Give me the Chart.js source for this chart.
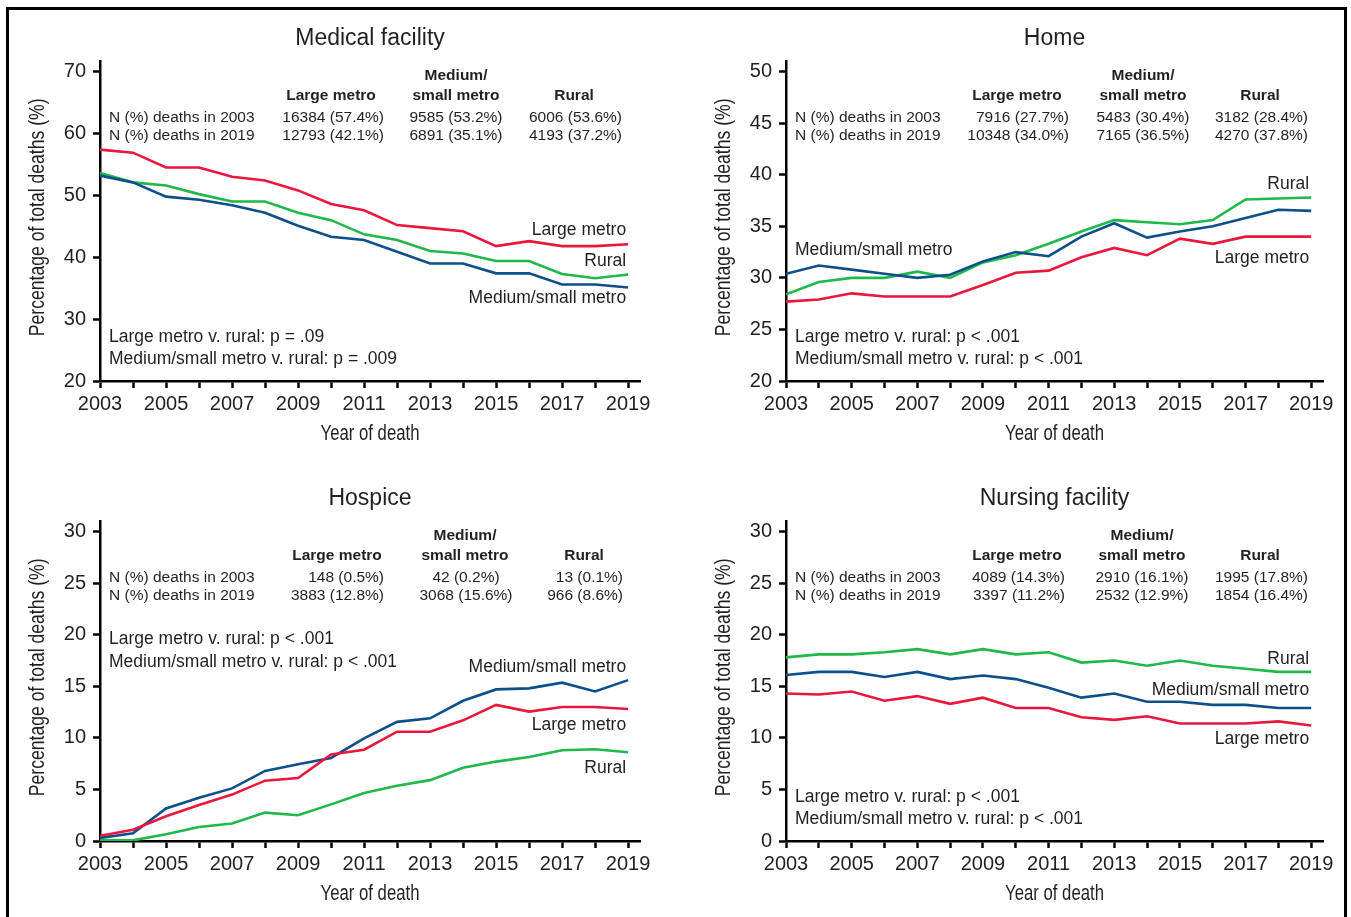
<!DOCTYPE html>
<html>
<head>
<meta charset="utf-8">
<title>Place of death by urbanization</title>
<script src="https://cdn.jsdelivr.net/npm/chart.js@4.4.0/dist/chart.umd.min.js"></script>
<style>
  html, body { margin: 0; padding: 0; background: #fff; width: 1351px; height: 917px; overflow: hidden; }
  .frame { position: absolute; left: 6px; top: 7px; width: 1335px; height: 960px; border: 3px solid #000; }
  .panel { position: absolute; }
</style>
</head>
<body>
<div class="frame"></div>
<div class="panel" style="left:20px;top:15px"><canvas id="c1" width="640" height="441"></canvas></div>
<div class="panel" style="left:706px;top:15px"><canvas id="c2" width="640" height="441"></canvas></div>
<div class="panel" style="left:20px;top:475px"><canvas id="c3" width="640" height="441"></canvas></div>
<div class="panel" style="left:706px;top:475px"><canvas id="c4" width="640" height="441"></canvas></div>
<script>
// ---- data ----
const years = [2003, 2004, 2005, 2006, 2007, 2008, 2009, 2010, 2011, 2012, 2013, 2014, 2015, 2016, 2017, 2018, 2019];
const yearLabels = ['2003', '2005', '2007', '2009', '2011', '2013', '2015', '2017', '2019'];
const seriesNames = ['Large metro', 'Medium/small metro', 'Rural'];

// Medical facility
const medLarge = [57.4, 56.9, 54.5, 54.5, 53.0, 52.4, 50.8, 48.6, 47.6, 45.2, 44.7, 44.2, 41.8, 42.6, 41.8, 41.8, 42.1];
const medMedSmall = [53.2, 52.1, 49.8, 49.3, 48.4, 47.2, 45.1, 43.3, 42.8, 40.9, 39.0, 39.0, 37.4, 37.4, 35.6, 35.6, 35.1];
const medRural = [53.6, 52.1, 51.6, 50.2, 49.0, 49.0, 47.2, 46.0, 43.7, 42.8, 41.0, 40.6, 39.4, 39.4, 37.3, 36.6, 37.2];
const medTicks = [20, 30, 40, 50, 60, 70];
const medN2003 = ['16384 (57.4%)', '9585 (53.2%)', '6006 (53.6%)'];
const medN2019 = ['12793 (42.1%)', '6891 (35.1%)', '4193 (37.2%)'];
const medP = ['Large metro v. rural: p = .09', 'Medium/small metro v. rural: p = .009'];

// Home
const homeLarge = [27.7, 27.9, 28.5, 28.2, 28.2, 28.2, 29.3, 30.5, 30.7, 32.0, 32.9, 32.2, 33.8, 33.3, 34.0, 34.0, 34.0];
const homeMedSmall = [30.4, 31.2, 30.8, 30.4, 30.0, 30.3, 31.6, 32.5, 32.1, 34.0, 35.3, 33.9, 34.5, 35.0, 35.8, 36.6, 36.5];
const homeRural = [28.4, 29.6, 30.0, 30.0, 30.6, 30.0, 31.5, 32.2, 33.3, 34.5, 35.6, 35.4, 35.2, 35.6, 37.6, 37.7, 37.8];
const homeTicks = [20, 25, 30, 35, 40, 45, 50];
const homeN2003 = ['7916 (27.7%)', '5483 (30.4%)', '3182 (28.4%)'];
const homeN2019 = ['10348 (34.0%)', '7165 (36.5%)', '4270 (37.8%)'];
const homeP = ['Large metro v. rural: p < .001', 'Medium/small metro v. rural: p < .001'];

// Hospice
const hospLarge = [0.5, 1.1, 2.4, 3.5, 4.5, 5.85, 6.1, 8.4, 8.85, 10.6, 10.6, 11.7, 13.2, 12.55, 13.0, 13.0, 12.8];
const hospMedSmall = [0.3, 0.75, 3.15, 4.2, 5.1, 6.8, 7.45, 8.05, 9.95, 11.55, 11.9, 13.6, 14.7, 14.8, 15.35, 14.5, 15.6];
const hospRural = [0.1, 0.06, 0.65, 1.36, 1.7, 2.75, 2.5, 3.55, 4.65, 5.35, 5.9, 7.1, 7.7, 8.15, 8.8, 8.9, 8.6];
const hospTicks = [0, 5, 10, 15, 20, 25, 30];
const hospN2003 = ['148 (0.5%)', '42 (0.2%)', '13 (0.1%)'];
const hospN2019 = ['3883 (12.8%)', '3068 (15.6%)', '966 (8.6%)'];
const hospP = ['Large metro v. rural: p < .001', 'Medium/small metro v. rural: p < .001'];

// Nursing facility
const nursLarge = [14.3, 14.2, 14.5, 13.6, 14.05, 13.3, 13.9, 12.9, 12.9, 12.0, 11.75, 12.1, 11.4, 11.4, 11.4, 11.6, 11.2];
const nursMedSmall = [16.1, 16.4, 16.4, 15.9, 16.4, 15.7, 16.05, 15.7, 14.85, 13.9, 14.3, 13.5, 13.5, 13.2, 13.2, 12.9, 12.9];
const nursRural = [17.8, 18.1, 18.1, 18.3, 18.6, 18.1, 18.6, 18.1, 18.3, 17.3, 17.5, 17.0, 17.5, 17.0, 16.7, 16.4, 16.4];
const nursTicks = [0, 5, 10, 15, 20, 25, 30];
const nursN2003 = ['4089 (14.3%)', '2910 (16.1%)', '1995 (17.8%)'];
const nursN2019 = ['3397 (11.2%)', '2532 (12.9%)', '1854 (16.4%)'];
const nursP = ['Large metro v. rural: p < .001', 'Medium/small metro v. rural: p < .001'];

const tableHead = ['Large metro', 'Medium/', 'small metro', 'Rural'];
const rowLabels = ['N (%) deaths in 2003', 'N (%) deaths in 2019'];
const xTitle = 'Year of death';
const yTitle = 'Percentage of total deaths (%)';

// ---- styling ----
const INK = '#231f20';
const RED = '#e8173c', BLUE = '#0d4f8b', GREEN = '#1fb84a';
const SANS = '"Liberation Sans", Arial, Helvetica, sans-serif';
const SQUEEZE = 0.76; // the axis titles are set in a condensed face

// text inside the plot: little table, p-values, line labels, axis titles
const notes = {
  id: 'notes',
  afterDatasetsDraw(chart, args, o) {
    const {ctx, chartArea: a, scales: {x, y}} = chart;
    const top = y.getPixelForValue(o.yTop);
    const L = a.left;
    const c = o.cols;
    ctx.save();
    ctx.fillStyle = INK;
    ctx.textBaseline = 'middle';

    ctx.font = 'bold 15.5px ' + SANS;
    ctx.textAlign = 'center';
    ctx.fillText(tableHead[0], L + c[0][0], top + 24);
    ctx.fillText(tableHead[1], L + c[1][0], top + 4);
    ctx.fillText(tableHead[2], L + c[1][0], top + 24);
    ctx.fillText(tableHead[3], L + c[2][0], top + 24);

    ctx.font = '15.5px ' + SANS;
    [o.n2003, o.n2019].forEach((row, r) => {
      const ty = top + 46 + r * 18.5;
      ctx.textAlign = 'left';
      ctx.fillText(rowLabels[r], L + 9, ty);
      ctx.textAlign = 'right';
      ctx.fillText(row[0], L + c[0][1], ty);
      ctx.textAlign = 'center';
      ctx.fillText(row[1], L + c[1][1], ty);
      ctx.textAlign = 'right';
      ctx.fillText(row[2], L + c[2][1], ty);
    });

    ctx.font = '17.5px ' + SANS;
    ctx.textAlign = 'left';
    o.pText.forEach((t, i) => {
      const ty = o.pTop ? top + o.pTop + i * 23 : a.bottom - 44 + i * 22;
      ctx.fillText(t, L + 9, ty);
    });

    o.labels.forEach(([t, yv, side]) => {
      const left = side === 'left';
      ctx.textAlign = left ? 'left' : 'right';
      const tx = left ? L + 9 : x.getPixelForValue(years[years.length - 1]) - 2;
      ctx.fillText(t, tx, y.getPixelForValue(yv));
    });

    // condensed axis titles
    ctx.font = '22px ' + SANS;
    ctx.textAlign = 'center';
    ctx.save();
    ctx.translate((a.left + a.right) / 2, a.bottom + 53);
    ctx.scale(SQUEEZE, 1);
    ctx.fillText(xTitle, 0, 0);
    ctx.restore();

    ctx.save();
    ctx.translate(L - 62, (a.top + a.bottom) / 2 - 4);
    ctx.rotate(-Math.PI / 2);
    ctx.scale(0.8, 1);
    ctx.fillText(yTitle, 0, 0);
    ctx.restore();

    ctx.restore();
  }
};

function makePanel(id, p) {
  const first = p.ticks[0], last = p.ticks[p.ticks.length - 1];
  const yMax = last + (last - first) * 10 / 309;
  const xMax = years[years.length - 1] + 0.36;
  const series = [p.large, p.medSmall, p.rural];
  const colors = [RED, BLUE, GREEN];
  new Chart(document.getElementById(id), {
    type: 'line',
    data: {
      datasets: series.map((vals, i) => ({
        label: seriesNames[i],
        data: years.map((yr, k) => ({x: yr, y: vals[k]})),
        borderColor: colors[i],
        backgroundColor: colors[i],
        borderWidth: 2.6,
        pointRadius: 0,
        tension: 0,
        fill: false
      }))
    },
    options: {
      responsive: false,
      devicePixelRatio: 1,
      animation: false,
      layout: {padding: {right: p.padRight, bottom: 0, top: 0, left: 0}},
      plugins: {
        legend: {display: false},
        tooltip: {enabled: false},
        title: {
          display: true, text: p.title, fullSize: false, color: INK,
          font: {family: SANS, size: 23, weight: 'normal'},
          padding: {top: 10, bottom: 9}
        },
        notes: {
          yTop: last, cols: p.cols, n2003: p.n2003, n2019: p.n2019,
          pText: p.pText, pTop: p.pTop, labels: p.labels
        }
      },
      scales: {
        x: {
          type: 'linear', min: years[0], max: xMax,
          afterBuildTicks: s => { s.ticks = years.map(v => ({value: v})); },
          afterFit: s => { s.height = 75; },
          border: {display: true, color: '#000', width: 2.5},
          grid: {drawOnChartArea: false, color: '#000', tickLength: 7, tickWidth: 2.5},
          ticks: {
            color: INK, font: {family: SANS, size: 20}, padding: 4, maxRotation: 0, autoSkip: false,
            callback: v => yearLabels.includes(String(v)) ? String(v) : ''
          }
        },
        y: {
          type: 'linear', min: first, max: yMax,
          afterBuildTicks: s => { s.ticks = p.ticks.map(v => ({value: v})); },
          afterFit: s => { s.width = 80; },
          border: {display: true, color: '#000', width: 2.5},
          grid: {drawOnChartArea: false, color: '#000', tickLength: 7, tickWidth: 2.5},
          ticks: {color: INK, font: {family: SANS, size: 20}, padding: 7, callback: v => String(v)}
        }
      }
    },
    plugins: [notes]
  });
}

makePanel('c1', {
  title: 'Medical facility', large: medLarge, medSmall: medMedSmall, rural: medRural,
  ticks: medTicks, n2003: medN2003, n2019: medN2019, pText: medP, padRight: 20,
  cols: [[231, 284], [356, 356], [474, 522]],
  labels: [['Large metro', 44.4], ['Rural', 39.3], ['Medium/small metro', 33.4]]
});
makePanel('c2', {
  title: 'Home', large: homeLarge, medSmall: homeMedSmall, rural: homeRural,
  ticks: homeTicks, n2003: homeN2003, n2019: homeN2019, pText: homeP, padRight: 23,
  cols: [[231, 283], [357, 357], [474, 522]],
  labels: [['Rural', 39.1], ['Large metro', 31.9], ['Medium/small metro', 32.7, 'left']]
});
makePanel('c3', {
  title: 'Hospice', large: hospLarge, medSmall: hospMedSmall, rural: hospRural,
  ticks: hospTicks, n2003: hospN2003, n2019: hospN2019, pText: hospP, pTop: 108, padRight: 20,
  cols: [[237, 284], [365, 366], [484, 523]],
  labels: [['Medium/small metro', 16.85], ['Large metro', 11.2], ['Rural', 7.1]]
});
makePanel('c4', {
  title: 'Nursing facility', large: nursLarge, medSmall: nursMedSmall, rural: nursRural,
  ticks: nursTicks, n2003: nursN2003, n2019: nursN2019, pText: nursP, padRight: 23,
  cols: [[231, 279], [356, 356], [474, 522]],
  labels: [['Rural', 17.6], ['Medium/small metro', 14.6], ['Large metro', 9.9]]
});
</script>
</body>
</html>
